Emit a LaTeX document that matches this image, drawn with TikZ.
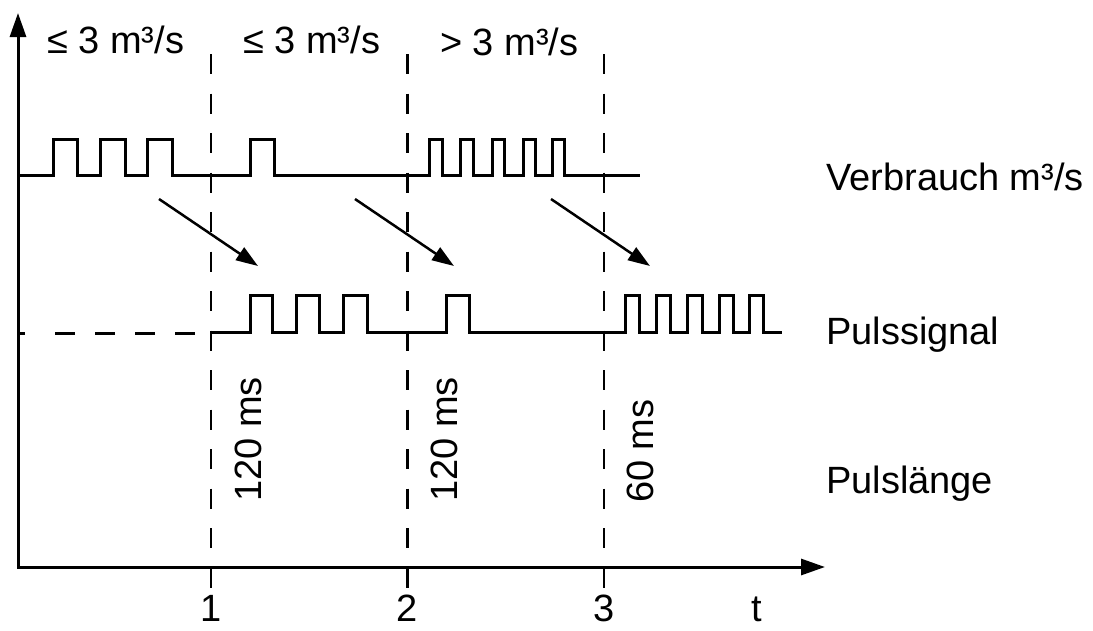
\documentclass[tikz,border=0pt]{standalone}
\usepackage{fontspec}
\setmainfont{Liberation Sans}
\usetikzlibrary{arrows.meta}

\tikzset{
    axis/.style={line width=3pt, {Triangle[length=24pt,width=16pt]}-{Triangle[length=24pt,width=16pt]}},
    signal/.style={line width=3pt, line join=miter},
    grid line/.style={line width=2.5pt, dash pattern=on 20pt off 19.5pt},
    shift arrow/.style={line width=2.5pt, -{Triangle[length=22pt,width=15pt]}},
    lbl/.style={inner sep=0pt, anchor=base west, font=\fontsize{38}{44}\selectfont},
}

\begin{document}
\begin{tikzpicture}[x=1pt,y=-1pt]
    \useasboundingbox (0,0) rectangle (1093,630);
    % axes
    \coordinate (ymax) at (18,13);
    \coordinate (o) at (18,567);
    \coordinate (tmax) at (825,567);
    \draw[axis] (ymax) -- (o) -- (tmax);
    % time marks
    \foreach \x/\n in {211/1, 407.5/2, 604/3}{
        \draw[grid line] (\x,54) -- (\x,588);
        \node[lbl, anchor=base] (n\n) at (\x,621) {\n};
    }
    \node[lbl, anchor=base] (t) at (757,621) {t};
    % Verbrauch
    \draw[signal] (18,175) foreach \a/\b in {53/77,100/125,147/172,250/274,429/442,460/473,492/504,523/535,552/564}{ -| (\a,139) -| (\b,175) } -- (640,175);
    % Pulssignal
    \draw[line width=3pt, dash pattern=on 8pt off 30pt on 20pt off 20pt on 20pt off 20pt on 20pt off 20pt on 20pt off 20pt] (17,333) -- (211,333);
    \draw[signal] (211,332) foreach \a/\b in {250/272,296/319,343/367,446/469,625/639,656/670,687/702,719/733,749/763}{ -| (\a,295) -| (\b,332) } -- (782,332);
    % shift arrows
    \foreach \i/\x in {1/0, 2/196, 3/392}{
        \coordinate (s\i) at (159+\x,199);
        \coordinate (e\i) at (258+\x,266);
        \draw[shift arrow] (s\i) -- (e\i);
    }
    % labels
    \node[lbl] (q1) at (47,53) {≤ 3 m³/s};
    \node[lbl] (q2) at (243,53) {≤ 3 m³/s};
    \node[lbl] (q3) at (440,55) {> 3 m³/s};
    \node[lbl] (verbrauch) at (826,190) {Verbrauch m³/s};
    \node[lbl] (puls) at (826,344) {Pulssignal};
    \node[lbl] (laenge) at (826,493) {Pulslänge};
    \node[lbl, rotate=90] (d1) at (261,502) {120 ms};
    \node[lbl, rotate=90] (d2) at (457,502) {120 ms};
    \node[lbl, rotate=90] (d3) at (653,503) {60 ms};
\end{tikzpicture}
\end{document}
